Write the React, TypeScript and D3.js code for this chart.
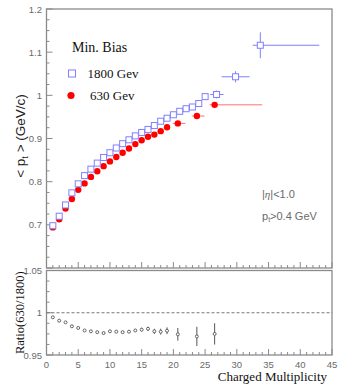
import React, { useEffect, useRef } from 'react';
import * as d3 from 'd3';

// 1800 GeV (open squares)
const mult1800 = [1, 2, 3, 4, 5, 6, 7, 8, 9, 10, 11, 12, 13, 14, 15, 16, 17, 18, 19, 20, 21, 22, 23, 24, 25, 26.8, 29.8, 33.7];
const pt1800 = [0.698, 0.72, 0.746, 0.774, 0.795, 0.814, 0.829, 0.843, 0.856, 0.867, 0.878, 0.888, 0.897, 0.906, 0.914, 0.921, 0.93, 0.94, 0.947, 0.955, 0.963, 0.969, 0.973, 0.981, 0.997, 1.002, 1.043, 1.116];
const ptErr1800 = [0, 0, 0, 0, 0, 0, 0, 0, 0, 0, 0, 0, 0, 0, 0, 0, 0, 0, 0, 0, 0, 0, 0.002, 0.004, 0.007, 0.009, 0.013, 0.03];
const xLo1800 = [null, null, null, null, null, null, null, null, null, null, null, null, null, null, null, null, null, null, null, null, null, null, null, null, null, 25.8, 27.6, 32.5];
const xHi1800 = [null, null, null, null, null, null, null, null, null, null, null, null, null, null, null, null, null, null, null, null, null, null, null, null, null, 27.9, 32, 43];

// 630 GeV (filled circles)
const mult630 = [1, 2, 3, 4, 5, 6, 7, 8, 9, 10, 11, 12, 13, 14, 15, 16, 17, 18, 19, 20.7, 23.7, 26.5];
const pt630 = [0.694, 0.713, 0.738, 0.76, 0.781, 0.796, 0.811, 0.824, 0.836, 0.847, 0.857, 0.867, 0.877, 0.887, 0.896, 0.904, 0.909, 0.917, 0.926, 0.935, 0.952, 0.978];
const ptErr630 = [0, 0, 0, 0, 0, 0, 0, 0, 0, 0, 0, 0, 0, 0, 0, 0, 0, 0, 0, 0.002, 0.003, 0.007];
const xLo630 = [null, null, null, null, null, null, null, null, null, null, null, null, null, null, null, null, null, null, null, 19.9, 22.9, 25.7];
const xHi630 = [null, null, null, null, null, null, null, null, null, null, null, null, null, null, null, null, null, null, null, 21.9, 24.9, 34.0];

// ratio 630/1800
const ratio = [0.9946, 0.9906, 0.9886, 0.984, 0.982, 0.979, 0.978, 0.977, 0.976, 0.978, 0.9776, 0.977, 0.9776, 0.979, 0.98, 0.981, 0.978, 0.9776, 0.9787, 0.9745, 0.972, 0.975];
const ratioErr = [0, 0, 0, 0, 0, 0, 0, 0, 0, 0.0005, 0.0008, 0.001, 0.0012, 0.0015, 0.0022, 0.0025, 0.003, 0.0035, 0.004, 0.0075, 0.0114, 0.0126];

const xTicks = [0, 5, 10, 15, 20, 25, 30, 35, 40, 45];
const ptTicks = [0.7, 0.8, 0.9, 1, 1.1, 1.2];
const ratioTicks = [0.95, 1, 1.05];

export default function App() {
  const ref = useRef<SVGSVGElement>(null);

  useEffect(() => {
    const svg = d3.select(ref.current);
    svg.selectAll('*').remove();

    const left = 46.5;
    const right = 332;
    const x = d3.scaleLinear().domain([0, 45]).range([left, right]);
    const y = d3.scaleLinear().domain([0.6, 1.2]).range([268, 9]);
    const yr = d3.scaleLinear().domain([0.95, 1.05]).range([355, 270.5]);

    const frameColor = '#8a8a8a';
    const tickColor = '#6a6a6a';
    const sans = 'Helvetica, Arial, "Liberation Sans", sans-serif';
    const serif = '"Times New Roman", "Liberation Serif", serif';

    const drawFrame = (yy: d3.ScaleLinear<number, number>, minorStep: number) => {
      const [y0, y1] = yy.range();
      const g = svg.append('g');
      g.append('rect')
        .attr('x', left).attr('y', y1)
        .attr('width', right - left).attr('height', y0 - y1)
        .attr('fill', 'none').attr('stroke', frameColor).attr('stroke-width', 1.3);
      // x ticks on bottom, pointing up
      d3.range(0, 46, 1).forEach((v) => {
        const len = v % 5 === 0 ? 6 : 3;
        g.append('line')
          .attr('x1', x(v)).attr('x2', x(v))
          .attr('y1', y0).attr('y2', y0 - len)
          .attr('stroke', frameColor).attr('stroke-width', 1);
      });
      // y ticks on left
      const [d0, d1] = yy.domain();
      const n = Math.round((d1 - d0) / minorStep);
      d3.range(0, n + 1).forEach((i) => {
        const v = d0 + i * minorStep;
        const len = i % 4 === 0 ? 6 : 3;
        g.append('line')
          .attr('x1', left).attr('x2', left + len)
          .attr('y1', yy(v)).attr('y2', yy(v))
          .attr('stroke', frameColor).attr('stroke-width', 1);
      });
    };

    drawFrame(y, 0.025);
    drawFrame(yr, 0.0125);

    // tick labels
    svg.append('g').selectAll('text').data(ptTicks).enter().append('text')
      .attr('x', 42).attr('y', (d) => y(d) + 3.5)
      .attr('text-anchor', 'end').attr('font-family', sans).attr('font-size', 9.5)
      .attr('fill', tickColor).text((d) => d3.format('~g')(d));
    svg.append('g').selectAll('text').data(ratioTicks).enter().append('text')
      .attr('x', 42).attr('y', (d) => yr(d) + 3.5)
      .attr('text-anchor', 'end').attr('font-family', sans).attr('font-size', 9.5)
      .attr('fill', tickColor).text((d) => d3.format('~g')(d));
    svg.append('g').selectAll('text').data(xTicks).enter().append('text')
      .attr('x', (d) => x(d)).attr('y', 368)
      .attr('text-anchor', 'middle').attr('font-family', sans).attr('font-size', 9.5)
      .attr('fill', tickColor).text((d) => d);

    // axis titles
    svg.append('text')
      .attr('transform', 'translate(25, 136) rotate(-90)')
      .attr('text-anchor', 'middle').attr('font-family', sans).attr('font-size', 13.5)
      .attr('fill', '#222')
      .html('&lt; p<tspan font-size="9" dy="3">t</tspan><tspan dy="-3"> &gt; (GeV/c)</tspan>');
    svg.append('text')
      .attr('transform', `translate(24, ${yr(1)}) rotate(-90)`)
      .attr('text-anchor', 'middle').attr('font-family', serif).attr('font-size', 12.5)
      .attr('fill', '#111').text('Ratio(630/1800)');
    svg.append('text')
      .attr('x', 327).attr('y', 381)
      .attr('text-anchor', 'end').attr('font-family', serif).attr('font-size', 13)
      .attr('fill', '#111').text('Charged Multiplicity');

    // legend
    svg.append('text').attr('x', 72).attr('y', 52)
      .attr('font-family', serif).attr('font-size', 14).attr('fill', '#111').text('Min. Bias');
    svg.append('rect').attr('x', 68.5).attr('y', 70).attr('width', 7).attr('height', 7)
      .attr('fill', 'none').attr('stroke', '#7f7fff').attr('stroke-width', 1);
    svg.append('text').attr('x', 87.5).attr('y', 77.5)
      .attr('font-family', serif).attr('font-size', 13).attr('fill', '#111').text('1800 Gev');
    svg.append('circle').attr('cx', 71).attr('cy', 95.5).attr('r', 3.6).attr('fill', '#ff0000');
    svg.append('text').attr('x', 90).attr('y', 99.5)
      .attr('font-family', serif).attr('font-size', 13).attr('fill', '#111').text('630 Gev');

    // cuts
    svg.append('text').attr('x', 262).attr('y', 198)
      .attr('font-family', sans).attr('font-size', 11).attr('fill', tickColor)
      .html('|<tspan font-family="serif" font-style="italic">η</tspan>|&lt;1.0');
    svg.append('text').attr('x', 262).attr('y', 220)
      .attr('font-family', sans).attr('font-size', 11).attr('fill', tickColor)
      .html('p<tspan font-size="7" dy="2">t</tspan><tspan dy="-2">&gt;0.4 GeV</tspan>');

    // 630 GeV series
    const g630 = svg.append('g');
    mult630.forEach((m, i) => {
      if (xLo630[i] !== null) {
        g630.append('line')
          .attr('x1', x(xLo630[i] as number)).attr('x2', x(xHi630[i] as number))
          .attr('y1', y(pt630[i])).attr('y2', y(pt630[i]))
          .attr('stroke', '#ff7070').attr('stroke-width', 1);
      }
      if (ptErr630[i] > 0) {
        g630.append('line')
          .attr('x1', x(m)).attr('x2', x(m))
          .attr('y1', y(pt630[i] - ptErr630[i])).attr('y2', y(pt630[i] + ptErr630[i]))
          .attr('stroke', '#ff7070').attr('stroke-width', 1);
      }
      g630.append('circle').attr('cx', x(m)).attr('cy', y(pt630[i])).attr('r', 3.2).attr('fill', '#ff0000');
    });

    // 1800 GeV series
    const g1800 = svg.append('g');
    mult1800.forEach((m, i) => {
      if (xLo1800[i] !== null) {
        g1800.append('line')
          .attr('x1', x(xLo1800[i] as number)).attr('x2', x(xHi1800[i] as number))
          .attr('y1', y(pt1800[i])).attr('y2', y(pt1800[i]))
          .attr('stroke', '#7f7fff').attr('stroke-width', 1);
      }
      if (ptErr1800[i] > 0) {
        g1800.append('line')
          .attr('x1', x(m)).attr('x2', x(m))
          .attr('y1', y(pt1800[i] - ptErr1800[i])).attr('y2', y(pt1800[i] + ptErr1800[i]))
          .attr('stroke', '#7f7fff').attr('stroke-width', 1);
      }
      g1800.append('rect')
        .attr('x', x(m) - 3).attr('y', y(pt1800[i]) - 3)
        .attr('width', 6).attr('height', 6)
        .attr('fill', 'white').attr('stroke', '#7f7fff').attr('stroke-width', 1);
    });

    // ratio panel
    svg.append('line')
      .attr('x1', x(0)).attr('x2', x(45))
      .attr('y1', yr(1)).attr('y2', yr(1))
      .attr('stroke', '#777').attr('stroke-width', 1).attr('stroke-dasharray', '3,2');
    const gr = svg.append('g');
    mult630.forEach((m, i) => {
      if (ratioErr[i] > 0) {
        gr.append('line')
          .attr('x1', x(m)).attr('x2', x(m))
          .attr('y1', yr(ratio[i] - ratioErr[i])).attr('y2', yr(ratio[i] + ratioErr[i]))
          .attr('stroke', '#555').attr('stroke-width', 1);
      }
      gr.append('circle').attr('cx', x(m)).attr('cy', yr(ratio[i])).attr('r', 1.5)
        .attr('fill', 'white').attr('stroke', '#555').attr('stroke-width', 0.9);
    });
  }, []);

  return (
    <svg
      ref={ref}
      width={343}
      height={386}
      style={{ position: 'absolute', left: 0, top: 0, background: 'white' }}
    />
  );
}
